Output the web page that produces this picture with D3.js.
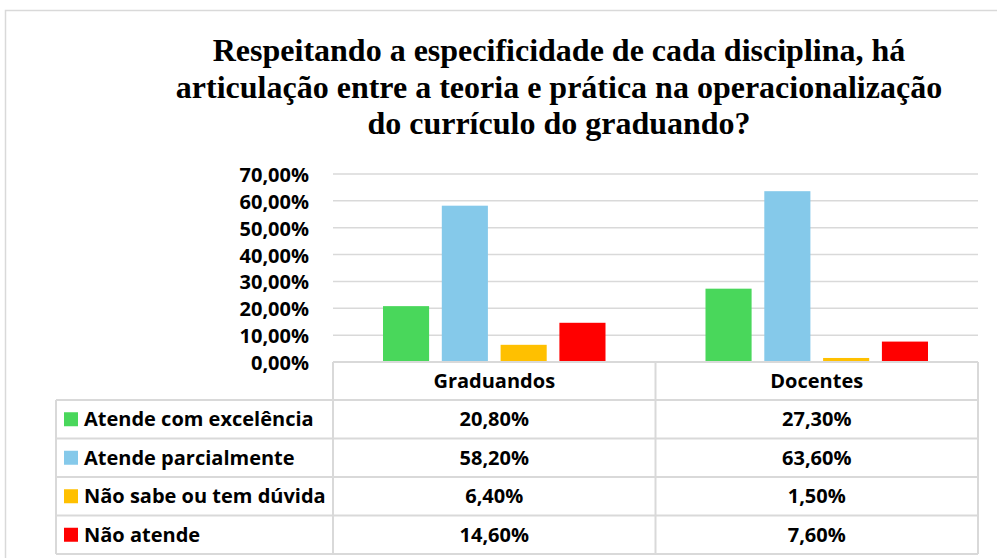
<!DOCTYPE html>
<html><head><meta charset="utf-8">
<script src="https://cdn.jsdelivr.net/npm/d3@7"></script>
<style>
html,body{margin:0;padding:0;background:#fff;}
svg{display:block;}
</style></head>
<body>
<svg id="chart" width="997" height="558"></svg>
<script>
const titleLines = ["Respeitando a especificidade de cada disciplina, há",
  "articulação entre a teoria e prática na operacionalização",
  "do currículo do graduando?"];
const categories = ["Graduandos", "Docentes"];
const seriesNames = ["Atende com excelência", "Atende parcialmente", "Não sabe ou tem dúvida", "Não atende"];
const seriesColors = ["#49D75B", "#85C9EA", "#FFC000", "#FF0000"];
const values = [
  [0.208, 0.273],
  [0.582, 0.636],
  [0.064, 0.015],
  [0.146, 0.076]
];
const valueLabels = [
  ["20,80%", "27,30%"],
  ["58,20%", "63,60%"],
  ["6,40%", "1,50%"],
  ["14,60%", "7,60%"]
];
const yTicks = [0, 0.1, 0.2, 0.3, 0.4, 0.5, 0.6, 0.7];
const yTickLabels = ["0,00%", "10,00%", "20,00%", "30,00%", "40,00%", "50,00%", "60,00%", "70,00%"];

const svg = d3.select("#chart");
const grid = "#D9D9D9";
const lblFont = "'Open Sans', Lato, sans-serif";
const lblSize = 20;

// outer border
svg.append("rect").attr("x", 5.5).attr("y", 10.5).attr("width", 1100).attr("height", 700)
  .attr("fill", "none").attr("stroke", grid).attr("stroke-width", 1.5);

// title
svg.append("g").selectAll("text").data(titleLines).join("text")
  .attr("x", 559).attr("y", (d, i) => 61 + i * 36.5)
  .attr("text-anchor", "middle")
  .attr("font-family", "'Liberation Serif', 'Times New Roman', serif")
  .attr("font-weight", "bold").attr("font-size", 32).attr("fill", "#000")
  .text(d => d);

const plotL = 333, plotR = 978, zeroY = 362, topY = 174;
const y = d3.scaleLinear().domain([0, 0.7]).range([zeroY, topY]);
const x = d3.scaleBand().domain(categories).range([plotL, plotR]);
const xs = d3.scaleBand().domain(seriesNames).range([50, x.bandwidth() - 50]).paddingInner(0.216);

// gridlines
svg.append("g").selectAll("line").data(yTicks.slice(1)).join("line")
  .attr("x1", plotL).attr("x2", plotR)
  .attr("y1", d => y(d)).attr("y2", d => y(d))
  .attr("stroke", grid).attr("stroke-width", 1.5);

// y labels
svg.append("g").selectAll("text").data(yTicks).join("text")
  .attr("x", 309).attr("y", d => y(d) + 8)
  .attr("text-anchor", "end")
  .attr("font-family", lblFont).attr("font-weight", "bold").attr("font-size", lblSize)
  .attr("fill", "#000")
  .text((d, i) => yTickLabels[i]);

// bars
seriesNames.forEach((s, si) => {
  svg.append("g").selectAll("rect").data(categories).join("rect")
    .attr("x", c => x(c) + xs(s))
    .attr("width", xs.bandwidth())
    .attr("y", (c, ci) => y(values[si][ci]))
    .attr("height", (c, ci) => zeroY - y(values[si][ci]))
    .attr("fill", seriesColors[si]);
});

// data table
const headH = 38, rowH = 38.5;
const tblL = 56;
const rowTop = i => zeroY + headH + i * rowH;
const tg = svg.append("g");
tg.append("line").attr("x1", plotL).attr("x2", plotR).attr("y1", zeroY).attr("y2", zeroY)
  .attr("stroke", grid).attr("stroke-width", 2);
d3.range(seriesNames.length + 1).forEach(i => {
  tg.append("line").attr("x1", tblL).attr("x2", plotR)
    .attr("y1", rowTop(i)).attr("y2", rowTop(i))
    .attr("stroke", grid).attr("stroke-width", 2);
});
tg.append("line").attr("x1", tblL).attr("x2", tblL).attr("y1", rowTop(0)).attr("y2", rowTop(4))
  .attr("stroke", grid).attr("stroke-width", 2);
[plotL, plotL + x.bandwidth(), plotR].forEach(xx => {
  tg.append("line").attr("x1", xx).attr("x2", xx).attr("y1", zeroY).attr("y2", rowTop(4))
    .attr("stroke", grid).attr("stroke-width", 2);
});
tg.selectAll("text.hdr").data(categories).join("text").attr("class", "hdr")
  .attr("x", c => x(c) + x.bandwidth() / 2).attr("y", zeroY + headH / 2 + 7)
  .attr("text-anchor", "middle")
  .attr("font-family", lblFont).attr("font-weight", "bold").attr("font-size", lblSize)
  .text(c => c);
seriesNames.forEach((s, si) => {
  const cy = rowTop(si) + rowH / 2;
  tg.append("rect").attr("x", 64).attr("y", cy - 7).attr("width", 14).attr("height", 14)
    .attr("fill", seriesColors[si]);
  tg.append("text").attr("x", 84).attr("y", cy + 7)
    .attr("font-family", lblFont).attr("font-weight", "bold").attr("font-size", lblSize)
    .text(s);
  categories.forEach((c, ci) => {
    tg.append("text").attr("x", x(c) + x.bandwidth() / 2).attr("y", cy + 7)
      .attr("text-anchor", "middle")
      .attr("font-family", lblFont).attr("font-weight", "bold").attr("font-size", lblSize)
      .text(valueLabels[si][ci]);
  });
});
</script>
</body></html>
